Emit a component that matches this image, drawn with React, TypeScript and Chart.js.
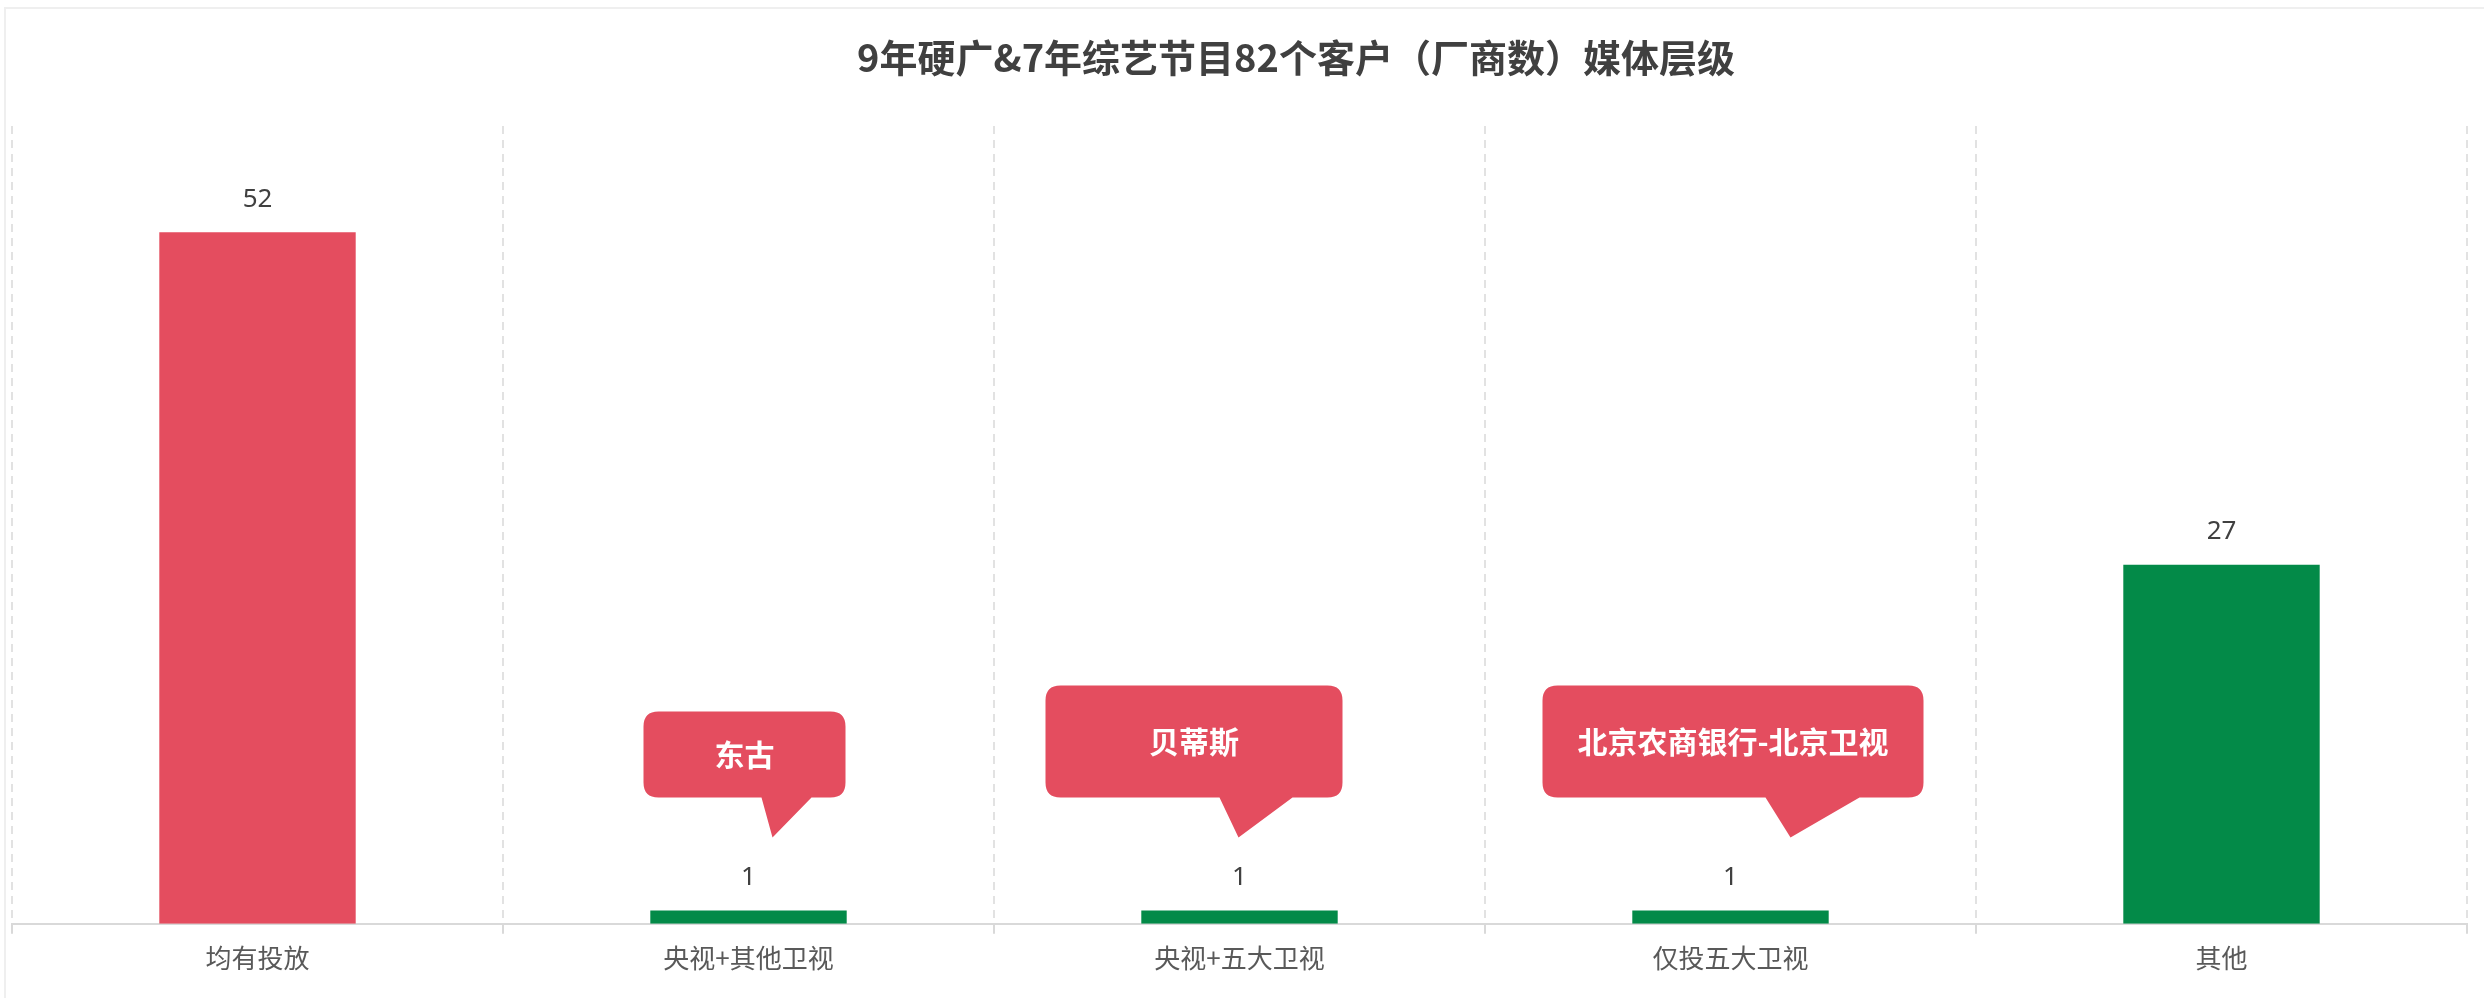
import React, { useEffect, useRef } from "react";
import { Chart, registerables } from "chart.js";

Chart.register(...registerables);

const TITLE = "9年硬广&7年综艺节目82个客户（厂商数）媒体层级";
const categories = ["均有投放", "央视+其他卫视", "央视+五大卫视", "仅投五大卫视", "其他"];
const customerCounts = [52, 1, 1, 1, 27];
const calloutIndexes = [1, 2, 3];
const calloutTexts = ["东古", "贝蒂斯", "北京农商银行-北京卫视"];

const RED = "#E44D5F";
const GREEN = "#038A48";
const barColors = [RED, GREEN, GREEN, GREEN, GREEN];

// callout geometry relative to the bar (styling, not data)
const calloutShapes = [
  { boxDx: -105, boxW: 202, boxH: 86, tailA: 13, tailB: 63, tipDx: 24 },
  { boxDx: -194, boxW: 297, boxH: 112, tailA: -20, tailB: 53, tipDx: -1 },
  { boxDx: -188, boxW: 381, boxH: 112, tailA: 35, tailB: 129, tipDx: 60 },
];

const titlePlugin = {
  id: "customTitle",
  afterDraw(chart: any) {
    const ctx = chart.ctx;
    ctx.save();
    ctx.font = "bold 38px 'Noto Sans CJK SC', sans-serif";
    ctx.fillStyle = "#404040";
    ctx.textAlign = "center";
    ctx.textBaseline = "middle";
    ctx.fillText(TITLE, chart.width / 2 + 54, 58);
    ctx.restore();
  },
};

const valueLabelPlugin = {
  id: "valueLabels",
  afterDatasetsDraw(chart: any) {
    const ctx = chart.ctx;
    const meta = chart.getDatasetMeta(0);
    ctx.save();
    ctx.font = "26px 'Noto Sans', sans-serif";
    ctx.fillStyle = "#404040";
    ctx.textAlign = "center";
    ctx.textBaseline = "middle";
    meta.data.forEach((bar: any, i: number) => {
      ctx.fillText(String(chart.data.datasets[0].data[i]), bar.x, bar.y - 33);
    });
    ctx.restore();
  },
};

const calloutPlugin = {
  id: "callouts",
  afterDatasetsDraw(chart: any) {
    const ctx = chart.ctx;
    const meta = chart.getDatasetMeta(0);
    ctx.save();
    calloutIndexes.forEach((idx, k) => {
      const bar: any = meta.data[idx];
      const s = calloutShapes[k];
      const bottom = bar.y - 113;
      const top = bottom - s.boxH;
      const left = bar.x + s.boxDx;
      const right = left + s.boxW;
      const r = 15;
      ctx.fillStyle = RED;
      ctx.beginPath();
      ctx.moveTo(left + r, top);
      ctx.lineTo(right - r, top);
      ctx.quadraticCurveTo(right, top, right, top + r);
      ctx.lineTo(right, bottom - r);
      ctx.quadraticCurveTo(right, bottom, right - r, bottom);
      ctx.lineTo(bar.x + s.tailB, bottom);
      ctx.lineTo(bar.x + s.tipDx, bar.y - 73);
      ctx.lineTo(bar.x + s.tailA, bottom);
      ctx.lineTo(left + r, bottom);
      ctx.quadraticCurveTo(left, bottom, left, bottom - r);
      ctx.lineTo(left, top + r);
      ctx.quadraticCurveTo(left, top, left + r, top);
      ctx.closePath();
      ctx.fill();
      ctx.fillStyle = "#FFFFFF";
      ctx.font = "bold 30px 'Noto Sans CJK SC', sans-serif";
      ctx.textAlign = "center";
      ctx.textBaseline = "middle";
      ctx.fillText(calloutTexts[k], (left + right) / 2, (top + bottom) / 2);
    });
    ctx.restore();
  },
};

export default function App() {
  const canvasRef = useRef<HTMLCanvasElement>(null);

  useEffect(() => {
    if (!canvasRef.current) return;
    const chart = new Chart(canvasRef.current, {
      type: "bar",
      data: {
        labels: categories,
        datasets: [
          {
            data: customerCounts,
            backgroundColor: barColors,
            barPercentage: 0.4,
            categoryPercentage: 1,
          },
        ],
      },
      options: {
        animation: false,
        responsive: true,
        maintainAspectRatio: false,
        layout: { padding: { left: 12, right: 17, top: 126, bottom: 15 } },
        plugins: {
          legend: { display: false },
          tooltip: { enabled: false },
          title: { display: false },
        },
        scales: {
          x: {
            grid: {
              display: true,
              color: "#E2E2E2",
              lineWidth: 2,
              drawTicks: true,
              tickLength: 10,
              tickColor: "#D9D9D9",
              tickWidth: 2,
              tickBorderDash: [],
            },
            border: { display: true, color: "#D9D9D9", width: 2, dash: [8, 6] },
            ticks: {
              color: "#595959",
              padding: 9,
              font: { family: "'Noto Sans CJK SC', sans-serif", size: 26 },
            },
          },
          y: {
            display: false,
            min: 0,
            max: 60,
          },
        },
      },
      plugins: [valueLabelPlugin, calloutPlugin, titlePlugin],
    });
    return () => chart.destroy();
  }, []);

  return (
    <div style={{ position: "fixed", left: 0, top: 0, width: "100vw", height: "100vh", background: "#fff" }}>
      <canvas ref={canvasRef} />
      <div
        style={{
          position: "absolute",
          left: 4,
          top: 7,
          right: 0,
          bottom: 0,
          borderLeft: "2px solid #EFEFEF",
          borderTop: "2px solid #EFEFEF",
          pointerEvents: "none",
        }}
      />
    </div>
  );
}
